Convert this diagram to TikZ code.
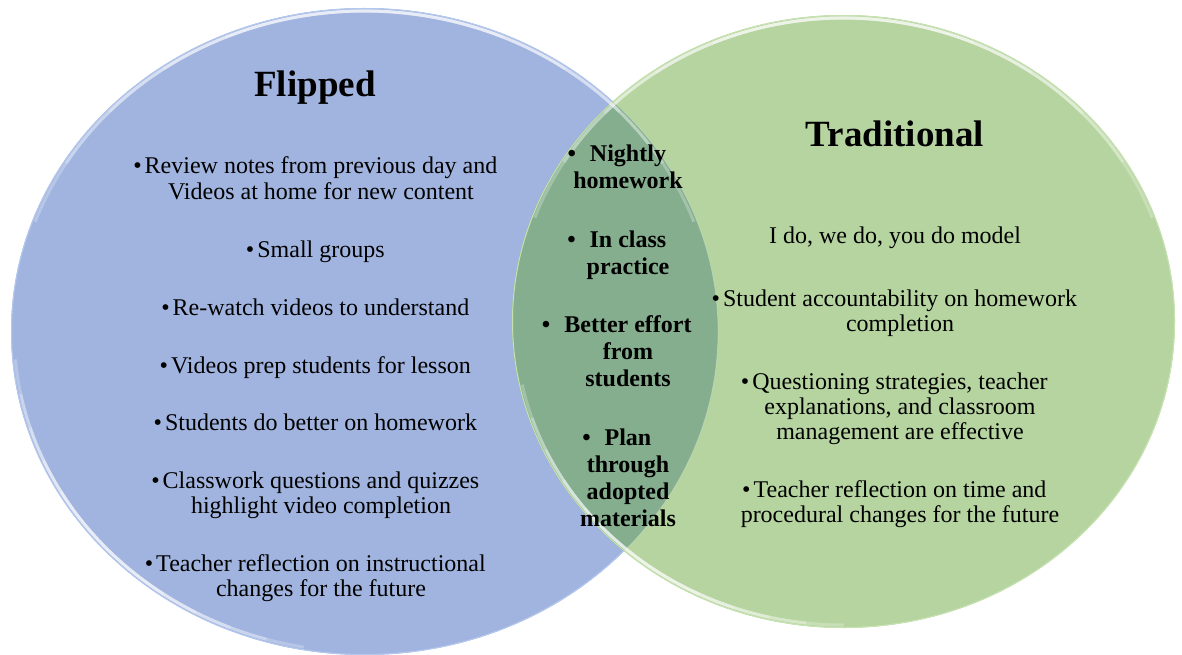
\documentclass[tikz,border=0pt]{standalone}
\usepackage{fontspec}
\setmainfont{Liberation Serif}
\definecolor{bluefill}{HTML}{A0B4DF}
\definecolor{greenfill}{HTML}{B5D4A0}
\definecolor{overfill}{HTML}{84AE8E}
\definecolor{blueedge}{HTML}{B4C8EE}
\definecolor{greenedge}{HTML}{C6E2B0}
\newcommand\bul{\llap{\textbullet\hspace{3pt}}}
\newcommand\cbul{\llap{\textbullet\hspace{14pt}}}
\tikzset{
  body/.style={font=\fontsize{24}{25}\selectfont, align=center, inner sep=0pt, anchor=base},
  core/.style={font=\bfseries\fontsize{24}{27}\selectfont, align=center, inner sep=0pt, anchor=base},
  ttl/.style={font=\bfseries\fontsize{37}{40}\selectfont, inner sep=0pt, anchor=base},
  hl/.style={white, line width=3pt, opacity=0.25},
}
\newcommand\glow[5]{% center, rx, ry, start, end
  \foreach \k in {0,...,4}{%
    \pgfmathsetmacro\sa{#4+\k*(#5-#4)/12}%
    \pgfmathsetmacro\ea{#5-\k*(#5-#4)/12}%
    \draw[hl] (#1) ++(\sa:#2 and #3) arc[start angle=\sa, end angle=\ea, x radius=#2, y radius=#3];
  }%
}
\begin{document}
\begin{tikzpicture}[x=1pt,y=-1pt]
\useasboundingbox (0,0) rectangle (1182,655);
\coordinate (bc) at (364.5,331.5);
\coordinate (gc) at (843.5,321.5);
% circles
\fill[bluefill] (bc) ellipse[x radius=353.5, y radius=323.5];
\draw[blueedge, line width=1pt] (bc) ellipse[x radius=353, y radius=323];
\fill[greenfill] (gc) ellipse[x radius=331.5, y radius=306.5];
\begin{scope}
  \clip (bc) ellipse[x radius=353.5, y radius=323.5];
  \fill[overfill] (gc) ellipse[x radius=331.5, y radius=306.5];
\end{scope}
\begin{scope}
  \clip (gc) ellipse[x radius=331.5, y radius=306.5];
  \draw[white, opacity=0.25, line width=0.8pt] (bc) ellipse[x radius=353.5, y radius=323.5];
\end{scope}
\draw[greenedge, line width=1pt] (gc) ellipse[x radius=331, y radius=306];
% highlights
\glow{bc}{350.5}{320.5}{200}{340}
\glow{bc}{350.5}{320.5}{100}{175}
\glow{gc}{328.5}{303.5}{200}{340}
\glow{gc}{328.5}{303.5}{90}{168}
% titles
\node[ttl] (flip) at (315,97) {Flipped};
\node[ttl] (trad) at (895,147) {Traditional};
% left items (anchor = baseline of last line)
\node[body] (l1) at (321,199) {\bul Review notes from previous day and\\Videos at home for new content};
\node[body] (l2) at (321,257) {\bul Small groups};
\node[body] (l3) at (321,315) {\bul Re-watch videos to understand};
\node[body] (l4) at (321,373) {\bul Videos prep students for lesson};
\node[body] (l5) at (321,430) {\bul Students do better on homework};
\node[body] (l6) at (321,513) {\bul Classwork questions and quizzes\\highlight video completion};
\node[body] (l7) at (321,596) {\bul Teacher reflection on instructional\\changes for the future};
% overlap items
\node[core] (c1) at (628,189) {\cbul Nightly\\homework};
\node[core] (c2) at (628,274) {\cbul In class\\practice};
\node[core] (c3) at (628,386) {\cbul Better effort\\from\\students};
\node[core] (c4) at (628,526) {\cbul Plan\\through\\adopted\\materials};
% right items
\node[body] (r1) at (895,243) {I do, we do, you do model};
\node[body] (r2) at (900,331) {\bul Student accountability on homework\\completion};
\node[body] (r3) at (900,439) {\bul Questioning strategies, teacher\\explanations, and classroom\\management are effective};
\node[body] (r4) at (900,522) {\bul Teacher reflection on time and\\procedural changes for the future};
\end{tikzpicture}
\end{document}
